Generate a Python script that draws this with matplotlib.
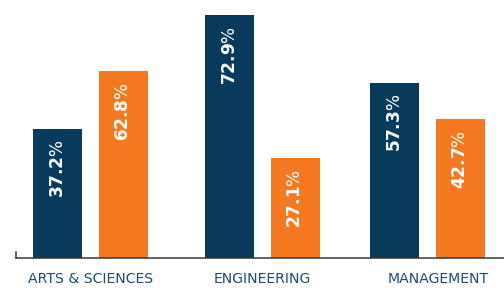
import matplotlib.pyplot as plt
import numpy as np

plt.rcParams['mathtext.fontset'] = 'dejavusans'

categories = ["ARTS & SCIENCES", "ENGINEERING", "MANAGEMENT"]
navy_labels = [37.2, 72.9, 57.3]
orange_labels = [62.8, 27.1, 42.7]
# bar heights as drawn in the picture (same scale as the 72.9 bar)
navy_heights = [38.7, 72.9, 52.5]
orange_heights = [56.1, 30.0, 41.7]

navy = "#083a5c"
orange = "#f47920"
text_col = "#1d4c6c"

fig = plt.figure(figsize=(7, 4), dpi=72)
ax = fig.add_axes([16 / 504, 30 / 288, 1 - 16 / 504, 258 / 288])

group_x = np.array([0, 1.024, 2.006])
label_x = [0, 1.022, 2.07]
w = 0.292
off = 0.196

b1 = ax.bar(group_x - off, navy_heights, w, color=navy)
b2 = ax.bar(group_x + off, orange_heights, w, color=orange)

for bars, vals in [(b1, navy_labels), (b2, orange_labels)]:
    for b, v in zip(bars, vals):
        ax.annotate(r"$\mathbf{%.1f}$%%" % v,
                    (b.get_x() + b.get_width() / 2, b.get_height()),
                    xytext=(0, -11), textcoords="offset points",
                    rotation=90, ha="center", va="top",
                    color="white", fontsize=17)

ax.set_xlim(-0.443, 2.461)
ax.set_ylim(0, 77.4)

for s in ["top", "right"]:
    ax.spines[s].set_visible(False)
ax.spines["bottom"].set_color("#333333")
ax.spines["bottom"].set_linewidth(1.5)
ax.spines["left"].set_color("#333333")
ax.spines["left"].set_linewidth(1.5)
ax.spines["left"].set_bounds(0, 1.8)
ax.set_yticks([])
ax.set_xticks(label_x)
ax.set_xticklabels(categories, fontsize=14, color=text_col)
ax.tick_params(axis="x", length=0, pad=14)

fig.savefig("out.png", dpi=72)
